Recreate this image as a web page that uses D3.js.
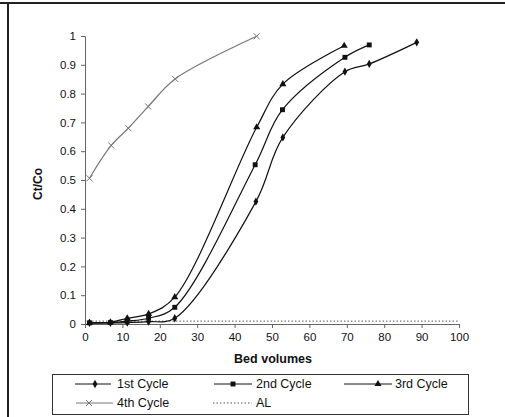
<!DOCTYPE html>
<html><head><meta charset="utf-8">
<script src="https://cdn.jsdelivr.net/npm/d3@7"></script>
<style>body{margin:0;background:#fff}svg{display:block}text{font-family:Arial,"Liberation Sans",sans-serif}</style>
</head><body><svg id="c" width="505" height="417"></svg>
<script>
const cycle1 = [[1.2,0.004],[6.8,0.004],[11.3,0.005],[17,0.008],[24,0.02],[45.7,0.425],[52.9,0.648],[69.5,0.876],[76,0.903],[88.7,0.978]];
const cycle2 = [[1.2,0.004],[6.8,0.005],[11.3,0.01],[17,0.02],[24,0.058],[45.5,0.553],[52.8,0.744],[69.5,0.926],[76,0.969]];
const cycle3 = [[1.2,0.004],[6.8,0.006],[11.3,0.02],[17,0.035],[24,0.093],[45.9,0.683],[52.9,0.833],[69.3,0.966]];
const cycle4 = [[1.2,0.506],[7,0.62],[11.6,0.68],[16.9,0.755],[24.1,0.851],[45.9,0.999]];
const alLine = [[0,0.01],[100,0.01]];
const xTicks = [0,10,20,30,40,50,60,70,80,90,100];
const yTicks = [0,0.1,0.2,0.3,0.4,0.5,0.6,0.7,0.8,0.9,1];
const seriesNames = ["1st Cycle","2nd Cycle","3rd Cycle","4th Cycle","AL"];

const svg = d3.select("#c");
const x = d3.scaleLinear().domain([0,100]).range([85,459]);
const y = d3.scaleLinear().domain([0,1]).range([324,36]);

// frame
svg.append("line").attr("x1",0).attr("x2",505).attr("y1",3).attr("y2",3).attr("stroke","#222").attr("stroke-width",2);
svg.append("line").attr("x1",8).attr("x2",8).attr("y1",3).attr("y2",417).attr("stroke","#222").attr("stroke-width",2);

const axCol = "#666";
const gx = svg.append("g").attr("transform",`translate(0,${y(0)})`)
  .call(d3.axisBottom(x).tickValues(xTicks).tickSize(4).tickPadding(5).tickFormat(d3.format("d")));
const gy = svg.append("g").attr("transform",`translate(${x(0)},0)`)
  .call(d3.axisLeft(y).tickValues(yTicks).tickSize(4).tickPadding(5).tickFormat(d=>d===0?"0":d===1?"1":d3.format(".1f")(d)));
[gx,gy].forEach(g=>{
  g.select(".domain").attr("stroke",axCol);
  g.selectAll(".tick line").attr("stroke",axCol);
  g.selectAll("text").attr("fill","#111").style("font-size","11.5px").style("font-family","Arial, 'Liberation Sans', sans-serif");
});

svg.append("text").attr("x",273).attr("y",363).attr("text-anchor","middle").attr("font-weight","bold").attr("font-size","12.5px").attr("fill","#111").text("Bed volumes");
svg.append("text").attr("transform","translate(42,184) rotate(-90)").attr("text-anchor","middle").attr("font-weight","bold").attr("font-size","12px").attr("fill","#111").text("Ct/Co");

const line = d3.line().x(d=>x(d[0])).y(d=>y(d[1])).curve(d3.curveCatmullRom.alpha(0.5));

// AL
svg.append("path").datum(alLine).attr("d",d3.line().x(d=>x(d[0])).y(d=>y(d[1]))).attr("fill","none").attr("stroke","#555").attr("stroke-dasharray","1.5,2").attr("stroke-width",1);

const sym = {
  diamond: d3.symbol().type(d3.symbolDiamond).size(20),
  square: d3.symbol().type(d3.symbolSquare).size(24),
  triangle: d3.symbol().type(d3.symbolTriangle).size(22)
};
function drawX(g,px,py,c){
  const s=3;
  g.append("path").attr("d",`M${px-s},${py-s}L${px+s},${py+s}M${px-s},${py+s}L${px+s},${py-s}`).attr("stroke",c).attr("stroke-width",1).attr("fill","none");
}

const series = [
  {data:cycle1, color:"#111", m:"diamond"},
  {data:cycle2, color:"#111", m:"square"},
  {data:cycle3, color:"#111", m:"triangle"},
  {data:cycle4, color:"#777", m:"x"}
];
series.forEach(s=>{
  svg.append("path").datum(s.data).attr("d",line).attr("fill","none").attr("stroke",s.color).attr("stroke-width",1.2);
  const g = svg.append("g");
  s.data.forEach(d=>{
    if(s.m==="x") drawX(g,x(d[0]),y(d[1]),s.color);
    else g.append("path").attr("d",sym[s.m]()).attr("transform",`translate(${x(d[0])},${y(d[1])})`).attr("fill",s.color);
  });
});

// legend
svg.append("rect").attr("x",52.5).attr("y",374.5).attr("width",416).attr("height",40).attr("fill","#fff").attr("stroke","#333").attr("stroke-width",1);
const leg = [
  {name:seriesNames[0], lx:75, rx:111, mx:95, y:384, m:"diamond", c:"#111", tx:117},
  {name:seriesNames[1], lx:214, rx:252, mx:233, y:384, m:"square", c:"#111", tx:256},
  {name:seriesNames[2], lx:344, rx:392, mx:378, y:384, m:"triangle", c:"#111", tx:395},
  {name:seriesNames[3], lx:76, rx:113, mx:89, y:403, m:"x", c:"#777", tx:117},
  {name:seriesNames[4], lx:213, rx:252, mx:null, y:403, m:"al", c:"#555", tx:256}
];
leg.forEach(l=>{
  const g = svg.append("g");
  const ln = g.append("line").attr("x1",l.lx).attr("x2",l.rx).attr("y1",l.y).attr("y2",l.y).attr("stroke",l.c).attr("stroke-width",1);
  if(l.m==="al") ln.attr("stroke-dasharray","1.5,2");
  else if(l.m==="x") drawX(g,l.mx,l.y,l.c);
  else g.append("path").attr("d",sym[l.m]()).attr("transform",`translate(${l.mx},${l.y})`).attr("fill",l.c);
  g.append("text").attr("x",l.tx).attr("y",l.y+4).attr("font-size","12.5px").attr("fill","#111").text(l.name);
});
</script></body></html>
